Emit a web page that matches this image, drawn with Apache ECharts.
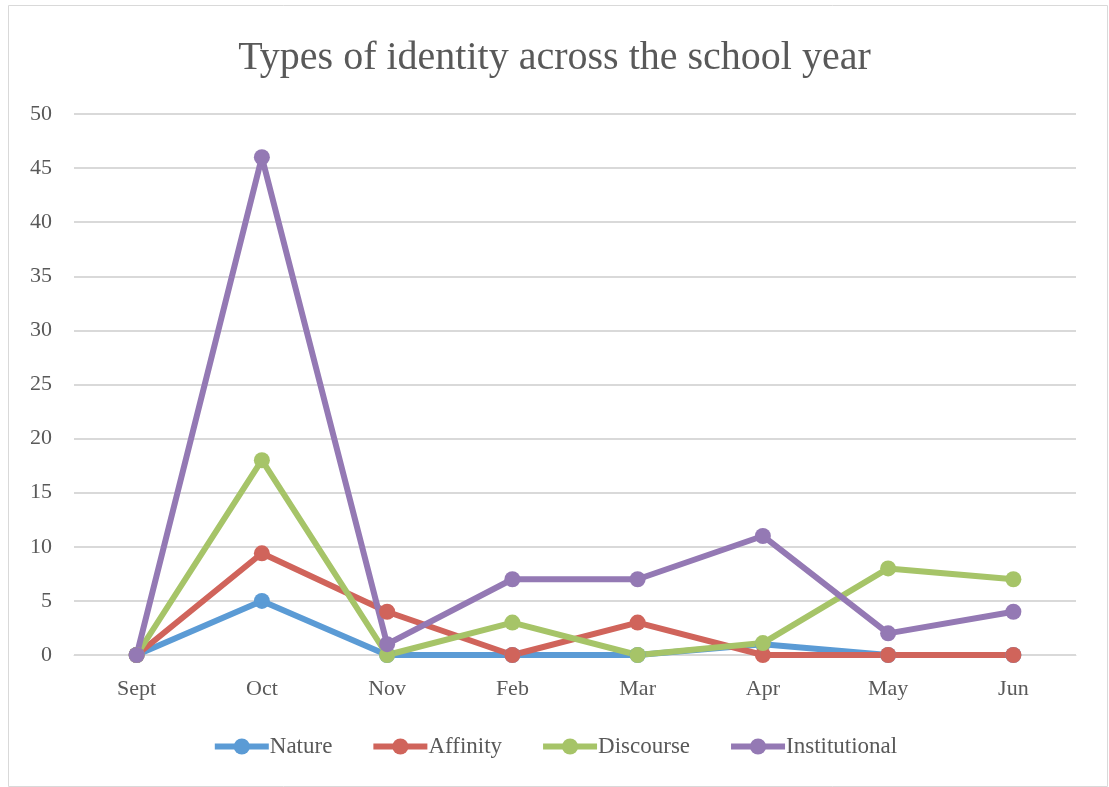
<!DOCTYPE html>
<html><head><meta charset="utf-8">
<script src="https://cdn.jsdelivr.net/npm/echarts@6/dist/echarts.min.js"></script>
<style>html,body{margin:0;padding:0;background:#fff;}#c{width:1109px;height:787px;}</style>
</head><body><div id="c"></div>
<script>
var categories = ['Sept','Oct','Nov','Feb','Mar','Apr','May','Jun'];
var nature = [0, 5, 0, 0, 0, 1, 0, 0];
var affinity = [0, 9.4, 4, 0, 3, 0, 0, 0];
var discourse = [0, 18, 0, 3, 0, 1.1, 8, 7];
var institutional = [0, 46, 1, 7, 7, 11, 2, 4];
var yTicks = {min: 0, max: 50, interval: 5};

var FONT = 'Liberation Serif';
var colors = ['#5B9BD5', '#D0645B', '#A6C468', '#9479B4'];
function mk(name, data, c) {
  return {name: name, type: 'line', data: data, symbol: 'circle', symbolSize: 16,
    lineStyle: {width: 6, color: c}, itemStyle: {color: c}, emphasis: {disabled: true}};
}
var chart = echarts.init(document.getElementById('c'));
chart.setOption({
  animation: false,
  color: colors,
  graphic: [{type: 'rect', shape: {x: 8.5, y: 5.5, width: 1099, height: 781}, style: {fill: 'none', stroke: '#d9d9d9', lineWidth: 1}, silent: true}],
  title: {text: 'Types of identity across the school year', left: 'center', top: 33,
    textStyle: {fontFamily: FONT, fontSize: 40, fontWeight: 'normal', color: '#595959'}},
  grid: {left: 74, right: 33, top: 114, bottom: 132},
  legend: {bottom: 24, left: 'center', itemWidth: 54, itemHeight: 20, itemGap: 38,
    lineStyle: {width: 6},
    textStyle: {fontFamily: FONT, fontSize: 23, color: '#595959', padding: [0,0,0,-4]},
    data: ['Nature','Affinity','Discourse','Institutional']},
  xAxis: {type: 'category', data: categories, boundaryGap: true,
    axisLine: {lineStyle: {color: '#d9d9d9', width: 1}}, axisTick: {show: false},
    axisLabel: {fontFamily: FONT, fontSize: 22, color: '#595959', margin: 23}},
  yAxis: {type: 'value', min: yTicks.min, max: yTicks.max, interval: yTicks.interval,
    axisLine: {show: false}, axisTick: {show: false},
    splitLine: {lineStyle: {color: '#d9d9d9', width: 2}},
    axisLabel: {fontFamily: FONT, fontSize: 22, color: '#595959', margin: 22}},
  series: [mk('Nature', nature, colors[0]), mk('Affinity', affinity, colors[1]),
    mk('Discourse', discourse, colors[2]), mk('Institutional', institutional, colors[3])]
});
</script></body></html>
